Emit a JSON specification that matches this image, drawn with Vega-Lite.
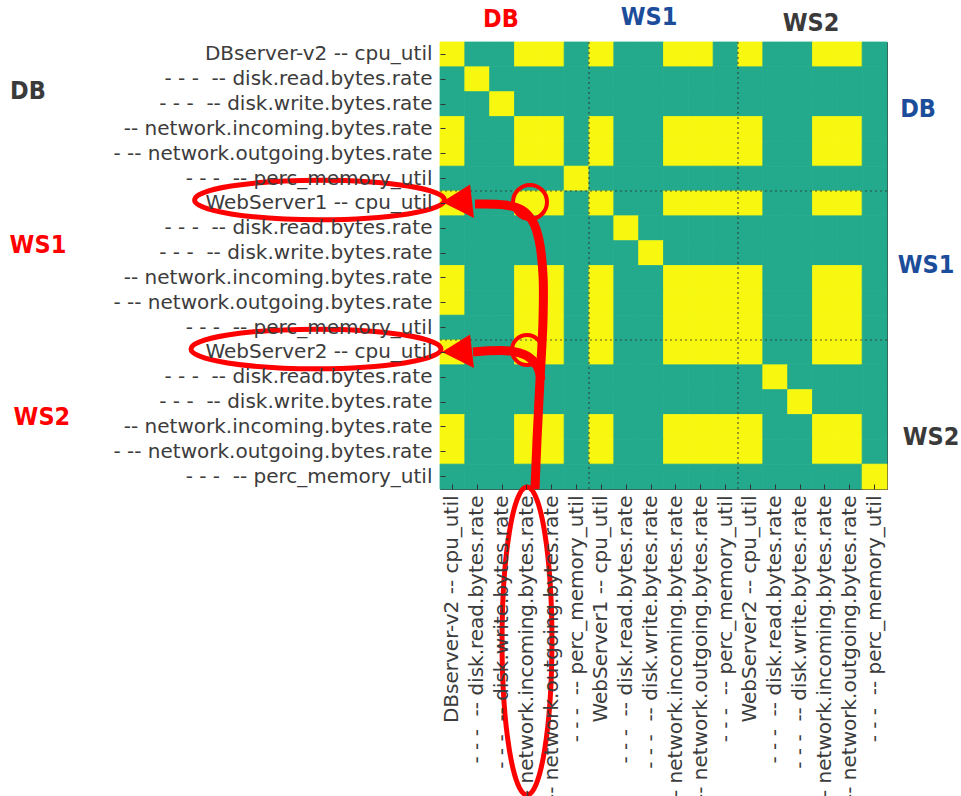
{
"$schema": "https://vega.github.io/schema/vega-lite/v6.json",
"width": 447, "height": 447,
"autosize": {"type": "none"},
"padding": {"left": 440, "top": 42, "right": 74, "bottom": 307},
"background": "white",
"config": {"view": {"stroke": "#404040", "strokeWidth": 1}},
"resolve": {"scale": {"x": "independent", "y": "independent", "color": "independent"}},
"layer": [
{
"data": {"values": [
{"r":0,"c":0,"v":1},{"r":0,"c":1,"v":0},{"r":0,"c":2,"v":0},{"r":0,"c":3,"v":1},{"r":0,"c":4,"v":1},{"r":0,"c":5,"v":0},{"r":0,"c":6,"v":1},{"r":0,"c":7,"v":0},{"r":0,"c":8,"v":0},{"r":0,"c":9,"v":1},{"r":0,"c":10,"v":1},{"r":0,"c":11,"v":0},{"r":0,"c":12,"v":1},{"r":0,"c":13,"v":0},{"r":0,"c":14,"v":0},{"r":0,"c":15,"v":1},{"r":0,"c":16,"v":1},{"r":0,"c":17,"v":0},
{"r":1,"c":0,"v":0},{"r":1,"c":1,"v":1},{"r":1,"c":2,"v":0},{"r":1,"c":3,"v":0},{"r":1,"c":4,"v":0},{"r":1,"c":5,"v":0},{"r":1,"c":6,"v":0},{"r":1,"c":7,"v":0},{"r":1,"c":8,"v":0},{"r":1,"c":9,"v":0},{"r":1,"c":10,"v":0},{"r":1,"c":11,"v":0},{"r":1,"c":12,"v":0},{"r":1,"c":13,"v":0},{"r":1,"c":14,"v":0},{"r":1,"c":15,"v":0},{"r":1,"c":16,"v":0},{"r":1,"c":17,"v":0},
{"r":2,"c":0,"v":0},{"r":2,"c":1,"v":0},{"r":2,"c":2,"v":1},{"r":2,"c":3,"v":0},{"r":2,"c":4,"v":0},{"r":2,"c":5,"v":0},{"r":2,"c":6,"v":0},{"r":2,"c":7,"v":0},{"r":2,"c":8,"v":0},{"r":2,"c":9,"v":0},{"r":2,"c":10,"v":0},{"r":2,"c":11,"v":0},{"r":2,"c":12,"v":0},{"r":2,"c":13,"v":0},{"r":2,"c":14,"v":0},{"r":2,"c":15,"v":0},{"r":2,"c":16,"v":0},{"r":2,"c":17,"v":0},
{"r":3,"c":0,"v":1},{"r":3,"c":1,"v":0},{"r":3,"c":2,"v":0},{"r":3,"c":3,"v":1},{"r":3,"c":4,"v":1},{"r":3,"c":5,"v":0},{"r":3,"c":6,"v":1},{"r":3,"c":7,"v":0},{"r":3,"c":8,"v":0},{"r":3,"c":9,"v":1},{"r":3,"c":10,"v":1},{"r":3,"c":11,"v":1},{"r":3,"c":12,"v":1},{"r":3,"c":13,"v":0},{"r":3,"c":14,"v":0},{"r":3,"c":15,"v":1},{"r":3,"c":16,"v":1},{"r":3,"c":17,"v":0},
{"r":4,"c":0,"v":1},{"r":4,"c":1,"v":0},{"r":4,"c":2,"v":0},{"r":4,"c":3,"v":1},{"r":4,"c":4,"v":1},{"r":4,"c":5,"v":0},{"r":4,"c":6,"v":1},{"r":4,"c":7,"v":0},{"r":4,"c":8,"v":0},{"r":4,"c":9,"v":1},{"r":4,"c":10,"v":1},{"r":4,"c":11,"v":1},{"r":4,"c":12,"v":1},{"r":4,"c":13,"v":0},{"r":4,"c":14,"v":0},{"r":4,"c":15,"v":1},{"r":4,"c":16,"v":1},{"r":4,"c":17,"v":0},
{"r":5,"c":0,"v":0},{"r":5,"c":1,"v":0},{"r":5,"c":2,"v":0},{"r":5,"c":3,"v":0},{"r":5,"c":4,"v":0},{"r":5,"c":5,"v":1},{"r":5,"c":6,"v":0},{"r":5,"c":7,"v":0},{"r":5,"c":8,"v":0},{"r":5,"c":9,"v":0},{"r":5,"c":10,"v":0},{"r":5,"c":11,"v":0},{"r":5,"c":12,"v":0},{"r":5,"c":13,"v":0},{"r":5,"c":14,"v":0},{"r":5,"c":15,"v":0},{"r":5,"c":16,"v":0},{"r":5,"c":17,"v":0},
{"r":6,"c":0,"v":1},{"r":6,"c":1,"v":0},{"r":6,"c":2,"v":0},{"r":6,"c":3,"v":1},{"r":6,"c":4,"v":1},{"r":6,"c":5,"v":0},{"r":6,"c":6,"v":1},{"r":6,"c":7,"v":0},{"r":6,"c":8,"v":0},{"r":6,"c":9,"v":1},{"r":6,"c":10,"v":1},{"r":6,"c":11,"v":1},{"r":6,"c":12,"v":1},{"r":6,"c":13,"v":0},{"r":6,"c":14,"v":0},{"r":6,"c":15,"v":1},{"r":6,"c":16,"v":1},{"r":6,"c":17,"v":0},
{"r":7,"c":0,"v":0},{"r":7,"c":1,"v":0},{"r":7,"c":2,"v":0},{"r":7,"c":3,"v":0},{"r":7,"c":4,"v":0},{"r":7,"c":5,"v":0},{"r":7,"c":6,"v":0},{"r":7,"c":7,"v":1},{"r":7,"c":8,"v":0},{"r":7,"c":9,"v":0},{"r":7,"c":10,"v":0},{"r":7,"c":11,"v":0},{"r":7,"c":12,"v":0},{"r":7,"c":13,"v":0},{"r":7,"c":14,"v":0},{"r":7,"c":15,"v":0},{"r":7,"c":16,"v":0},{"r":7,"c":17,"v":0},
{"r":8,"c":0,"v":0},{"r":8,"c":1,"v":0},{"r":8,"c":2,"v":0},{"r":8,"c":3,"v":0},{"r":8,"c":4,"v":0},{"r":8,"c":5,"v":0},{"r":8,"c":6,"v":0},{"r":8,"c":7,"v":0},{"r":8,"c":8,"v":1},{"r":8,"c":9,"v":0},{"r":8,"c":10,"v":0},{"r":8,"c":11,"v":0},{"r":8,"c":12,"v":0},{"r":8,"c":13,"v":0},{"r":8,"c":14,"v":0},{"r":8,"c":15,"v":0},{"r":8,"c":16,"v":0},{"r":8,"c":17,"v":0},
{"r":9,"c":0,"v":1},{"r":9,"c":1,"v":0},{"r":9,"c":2,"v":0},{"r":9,"c":3,"v":1},{"r":9,"c":4,"v":1},{"r":9,"c":5,"v":0},{"r":9,"c":6,"v":1},{"r":9,"c":7,"v":0},{"r":9,"c":8,"v":0},{"r":9,"c":9,"v":1},{"r":9,"c":10,"v":1},{"r":9,"c":11,"v":1},{"r":9,"c":12,"v":1},{"r":9,"c":13,"v":0},{"r":9,"c":14,"v":0},{"r":9,"c":15,"v":1},{"r":9,"c":16,"v":1},{"r":9,"c":17,"v":0},
{"r":10,"c":0,"v":1},{"r":10,"c":1,"v":0},{"r":10,"c":2,"v":0},{"r":10,"c":3,"v":1},{"r":10,"c":4,"v":1},{"r":10,"c":5,"v":0},{"r":10,"c":6,"v":1},{"r":10,"c":7,"v":0},{"r":10,"c":8,"v":0},{"r":10,"c":9,"v":1},{"r":10,"c":10,"v":1},{"r":10,"c":11,"v":1},{"r":10,"c":12,"v":1},{"r":10,"c":13,"v":0},{"r":10,"c":14,"v":0},{"r":10,"c":15,"v":1},{"r":10,"c":16,"v":1},{"r":10,"c":17,"v":0},
{"r":11,"c":0,"v":0},{"r":11,"c":1,"v":0},{"r":11,"c":2,"v":0},{"r":11,"c":3,"v":1},{"r":11,"c":4,"v":1},{"r":11,"c":5,"v":0},{"r":11,"c":6,"v":1},{"r":11,"c":7,"v":0},{"r":11,"c":8,"v":0},{"r":11,"c":9,"v":1},{"r":11,"c":10,"v":1},{"r":11,"c":11,"v":1},{"r":11,"c":12,"v":1},{"r":11,"c":13,"v":0},{"r":11,"c":14,"v":0},{"r":11,"c":15,"v":1},{"r":11,"c":16,"v":1},{"r":11,"c":17,"v":0},
{"r":12,"c":0,"v":1},{"r":12,"c":1,"v":0},{"r":12,"c":2,"v":0},{"r":12,"c":3,"v":1},{"r":12,"c":4,"v":1},{"r":12,"c":5,"v":0},{"r":12,"c":6,"v":1},{"r":12,"c":7,"v":0},{"r":12,"c":8,"v":0},{"r":12,"c":9,"v":1},{"r":12,"c":10,"v":1},{"r":12,"c":11,"v":1},{"r":12,"c":12,"v":1},{"r":12,"c":13,"v":0},{"r":12,"c":14,"v":0},{"r":12,"c":15,"v":1},{"r":12,"c":16,"v":1},{"r":12,"c":17,"v":0},
{"r":13,"c":0,"v":0},{"r":13,"c":1,"v":0},{"r":13,"c":2,"v":0},{"r":13,"c":3,"v":0},{"r":13,"c":4,"v":0},{"r":13,"c":5,"v":0},{"r":13,"c":6,"v":0},{"r":13,"c":7,"v":0},{"r":13,"c":8,"v":0},{"r":13,"c":9,"v":0},{"r":13,"c":10,"v":0},{"r":13,"c":11,"v":0},{"r":13,"c":12,"v":0},{"r":13,"c":13,"v":1},{"r":13,"c":14,"v":0},{"r":13,"c":15,"v":0},{"r":13,"c":16,"v":0},{"r":13,"c":17,"v":0},
{"r":14,"c":0,"v":0},{"r":14,"c":1,"v":0},{"r":14,"c":2,"v":0},{"r":14,"c":3,"v":0},{"r":14,"c":4,"v":0},{"r":14,"c":5,"v":0},{"r":14,"c":6,"v":0},{"r":14,"c":7,"v":0},{"r":14,"c":8,"v":0},{"r":14,"c":9,"v":0},{"r":14,"c":10,"v":0},{"r":14,"c":11,"v":0},{"r":14,"c":12,"v":0},{"r":14,"c":13,"v":0},{"r":14,"c":14,"v":1},{"r":14,"c":15,"v":0},{"r":14,"c":16,"v":0},{"r":14,"c":17,"v":0},
{"r":15,"c":0,"v":1},{"r":15,"c":1,"v":0},{"r":15,"c":2,"v":0},{"r":15,"c":3,"v":1},{"r":15,"c":4,"v":1},{"r":15,"c":5,"v":0},{"r":15,"c":6,"v":1},{"r":15,"c":7,"v":0},{"r":15,"c":8,"v":0},{"r":15,"c":9,"v":1},{"r":15,"c":10,"v":1},{"r":15,"c":11,"v":1},{"r":15,"c":12,"v":1},{"r":15,"c":13,"v":0},{"r":15,"c":14,"v":0},{"r":15,"c":15,"v":1},{"r":15,"c":16,"v":1},{"r":15,"c":17,"v":0},
{"r":16,"c":0,"v":1},{"r":16,"c":1,"v":0},{"r":16,"c":2,"v":0},{"r":16,"c":3,"v":1},{"r":16,"c":4,"v":1},{"r":16,"c":5,"v":0},{"r":16,"c":6,"v":1},{"r":16,"c":7,"v":0},{"r":16,"c":8,"v":0},{"r":16,"c":9,"v":1},{"r":16,"c":10,"v":1},{"r":16,"c":11,"v":1},{"r":16,"c":12,"v":1},{"r":16,"c":13,"v":0},{"r":16,"c":14,"v":0},{"r":16,"c":15,"v":1},{"r":16,"c":16,"v":1},{"r":16,"c":17,"v":0},
{"r":17,"c":0,"v":0},{"r":17,"c":1,"v":0},{"r":17,"c":2,"v":0},{"r":17,"c":3,"v":0},{"r":17,"c":4,"v":0},{"r":17,"c":5,"v":0},{"r":17,"c":6,"v":0},{"r":17,"c":7,"v":0},{"r":17,"c":8,"v":0},{"r":17,"c":9,"v":0},{"r":17,"c":10,"v":0},{"r":17,"c":11,"v":0},{"r":17,"c":12,"v":0},{"r":17,"c":13,"v":0},{"r":17,"c":14,"v":0},{"r":17,"c":15,"v":0},{"r":17,"c":16,"v":0},{"r":17,"c":17,"v":1}
]},
"mark": {"type": "rect", "strokeWidth": 0.8},
"encoding": {
"x": {"field": "c", "type": "ordinal", "scale": {"paddingInner": 0, "paddingOuter": 0},
"axis": {"orient": "bottom", "title": null, "domain": false, "labelAngle": 270, "labelFont": "DejaVu Sans", "labelFontSize": 20, "labelColor": "#3c3c3c", "labelLimit": 600, "labelPadding": 11, "tickSize": -5, "tickColor": "#333333",
"labelExpr": "['DBserver-v2 -- cpu_util','- - -\u00a0 -- disk.read.bytes.rate','- - -\u00a0 -- disk.write.bytes.rate','- - -\u00a0 -- network.incoming.bytes.rate','- - -\u00a0 -- network.outgoing.bytes.rate','- - -\u00a0 -- perc_memory_util','WebServer1 -- cpu_util','- - -\u00a0 -- disk.read.bytes.rate','- - -\u00a0 -- disk.write.bytes.rate','- - -\u00a0 -- network.incoming.bytes.rate','- - -\u00a0 -- network.outgoing.bytes.rate','- - -\u00a0 -- perc_memory_util','WebServer2 -- cpu_util','- - -\u00a0 -- disk.read.bytes.rate','- - -\u00a0 -- disk.write.bytes.rate','- - -\u00a0 -- network.incoming.bytes.rate','- - -\u00a0 -- network.outgoing.bytes.rate','- - -\u00a0 -- perc_memory_util'][datum.value]"}},
"y": {"field": "r", "type": "ordinal", "scale": {"paddingInner": 0, "paddingOuter": 0},
"axis": {"orient": "left", "title": null, "domain": false, "labelFont": "DejaVu Sans", "labelFontSize": 20, "labelColor": "#3c3c3c", "labelLimit": 600, "labelPadding": 13, "tickSize": -5, "tickColor": "#333333",
"labelExpr": "['DBserver-v2 -- cpu_util','- - -\u00a0 -- disk.read.bytes.rate','- - -\u00a0 -- disk.write.bytes.rate','-- network.incoming.bytes.rate','- -- network.outgoing.bytes.rate','- - -\u00a0 -- perc_memory_util','WebServer1 -- cpu_util','- - -\u00a0 -- disk.read.bytes.rate','- - -\u00a0 -- disk.write.bytes.rate','-- network.incoming.bytes.rate','- -- network.outgoing.bytes.rate','- - -\u00a0 -- perc_memory_util','WebServer2 -- cpu_util','- - -\u00a0 -- disk.read.bytes.rate','- - -\u00a0 -- disk.write.bytes.rate','-- network.incoming.bytes.rate','- -- network.outgoing.bytes.rate','- - -\u00a0 -- perc_memory_util'][datum.value]"}},
"color": {"field": "v", "type": "ordinal", "scale": {"domain": [0, 1], "range": ["#23aa8c", "#f7f70f"]}, "legend": null},
"stroke": {"field": "v", "type": "ordinal", "scale": {"domain": [0, 1], "range": ["#23aa8c", "#f7f70f"]}, "legend": null}
}
},
{
"layer": [
{
"data": {"values": [{"b": 6}, {"b": 12}]},
"mark": {"type": "rule", "color": "#333333", "strokeDash": [2, 3], "strokeWidth": 1.2, "opacity": 0.8},
"encoding": {
"x": {"field": "b", "type": "quantitative", "scale": {"domain": [0, 18], "nice": false, "zero": false},
"axis": {"orient": "top", "title": null, "labels": false, "domain": false, "grid": false, "tickSize": -5, "tickColor": "#333333", "values": [0.5,1.5,2.5,3.5,4.5,5.5,6.5,7.5,8.5,9.5,10.5,11.5,12.5,13.5,14.5,15.5,16.5,17.5]}}
}
},
{
"data": {"values": [{"b": 6}, {"b": 12}]},
"mark": {"type": "rule", "color": "#333333", "strokeDash": [2, 3], "strokeWidth": 1.2, "opacity": 0.8},
"encoding": {
"y": {"field": "b", "type": "quantitative", "scale": {"domain": [0, 18], "reverse": true, "nice": false, "zero": false},
"axis": {"orient": "right", "title": null, "labels": false, "domain": false, "grid": false, "tickSize": -5, "tickColor": "#333333", "values": [0.5,1.5,2.5,3.5,4.5,5.5,6.5,7.5,8.5,9.5,10.5,11.5,12.5,13.5,14.5,15.5,16.5,17.5]}}
}
},
{
"data": {"values": [
{"s":"a","i":0,"x":1.409,"y":6.524},{"s":"a","i":1,"x":2.617,"y":6.564},{"s":"a","i":2,"x":3.302,"y":6.765},{"s":"a","i":3,"x":3.745,"y":7.248},{"s":"a","i":4,"x":3.987,"y":7.973},{"s":"a","i":5,"x":4.148,"y":9.383},{"s":"a","i":6,"x":4.148,"y":11.195},{"s":"a","i":7,"x":4.027,"y":13.611},{"s":"a","i":8,"x":3.906,"y":16.027},{"s":"a","i":9,"x":3.826,"y":18.0},
{"s":"b","i":0,"x":1.329,"y":12.483},{"s":"b","i":1,"x":2.819,"y":12.443},{"s":"b","i":2,"x":3.503,"y":12.644},{"s":"b","i":3,"x":3.906,"y":13.047},{"s":"b","i":4,"x":4.067,"y":13.611}
]},
"mark": {"type": "line", "color": "#ff0000", "strokeWidth": 9, "interpolate": "catmull-rom", "strokeCap": "butt"},
"encoding": {
"x": {"field": "x", "type": "quantitative", "axis": null},
"y": {"field": "y", "type": "quantitative", "axis": null},
"detail": {"field": "s"},
"order": {"field": "i"}
}
},
{
"data": {"values": [{"x": 3.624, "y": 6.443}]},
"mark": {"type": "point", "shape": "circle", "size": 1156, "filled": false, "color": "#ff0000", "strokeWidth": 4, "opacity": 1},
"encoding": {"x": {"field": "x", "type": "quantitative", "axis": null}, "y": {"field": "y", "type": "quantitative", "axis": null}}
},
{
"data": {"values": [{"x": 3.503, "y": 12.403}]},
"mark": {"type": "point", "shape": "circle", "size": 900, "filled": false, "color": "#ff0000", "strokeWidth": 4, "opacity": 1},
"encoding": {"x": {"field": "x", "type": "quantitative", "axis": null}, "y": {"field": "y", "type": "quantitative", "axis": null}}
},
{
"data": {"values": [{"x": 0.725, "y": 6.443}, {"x": 0.725, "y": 12.483}]},
"mark": {"type": "point", "shape": "M-0.94,0L0.71,-1.03L0.94,0.94Z", "size": 1156, "filled": true, "color": "#ff0000", "opacity": 1},
"encoding": {"x": {"field": "x", "type": "quantitative", "axis": null}, "y": {"field": "y", "type": "quantitative", "axis": null}}
},
{
"data": {"values": [{"x": -4.85, "y": 6.362}, {"x": -4.993, "y": 12.362}]},
"mark": {"type": "point", "shape": "M-1,0C-1,-0.0873,-0.5523,-0.158,0,-0.158C0.5523,-0.158,1,-0.0873,1,0C1,0.0873,0.5523,0.158,0,0.158C-0.5523,0.158,-1,0.0873,-1,0Z", "size": 62500, "filled": false, "color": "#ff0000", "strokeWidth": 5, "opacity": 1},
"encoding": {"x": {"field": "x", "type": "quantitative", "axis": null}, "y": {"field": "y", "type": "quantitative", "axis": null}}
},
{
"data": {"values": [{"x": 3.503, "y": 24.12}]},
"mark": {"type": "point", "shape": "M0,-1C0.0895,-1,0.162,-0.5523,0.162,0C0.162,0.5523,0.0895,1,0,1C-0.0895,1,-0.162,0.5523,-0.162,0C-0.162,-0.5523,-0.0895,-1,0,-1Z", "size": 94864, "filled": false, "color": "#ff0000", "strokeWidth": 5, "opacity": 1},
"encoding": {"x": {"field": "x", "type": "quantitative", "axis": null}, "y": {"field": "y", "type": "quantitative", "axis": null}}
},
{
"data": {"values": [{"t": "DB", "x": 2.456, "y": -0.604}, {"t": "WS1", "x": -16.19, "y": 8.497}, {"t": "WS2", "x": -16.03, "y": 15.423}]},
"mark": {"type": "text", "font": "DejaVu Sans Condensed, DejaVu Sans", "fontWeight": "bold", "fontSize": 25, "color": "#ff0000", "align": "center", "baseline": "alphabetic"},
"encoding": {"x": {"field": "x", "type": "quantitative", "axis": null}, "y": {"field": "y", "type": "quantitative", "axis": null}, "text": {"field": "t"}}
},
{
"data": {"values": [{"t": "WS1", "x": 8.416, "y": -0.685}, {"t": "DB", "x": 19.25, "y": 3.02}, {"t": "WS1", "x": 19.57, "y": 9.302}]},
"mark": {"type": "text", "font": "DejaVu Sans Condensed, DejaVu Sans", "fontWeight": "bold", "fontSize": 25, "color": "#1b4d9b", "align": "center", "baseline": "alphabetic"},
"encoding": {"x": {"field": "x", "type": "quantitative", "axis": null}, "y": {"field": "y", "type": "quantitative", "axis": null}, "text": {"field": "t"}}
},
{
"data": {"values": [{"t": "WS2", "x": 14.94, "y": -0.443}, {"t": "WS2", "x": 19.77, "y": 16.228}, {"t": "DB", "x": -16.59, "y": 2.295}]},
"mark": {"type": "text", "font": "DejaVu Sans Condensed, DejaVu Sans", "fontWeight": "bold", "fontSize": 25, "color": "#3a3a3a", "align": "center", "baseline": "alphabetic"},
"encoding": {"x": {"field": "x", "type": "quantitative", "axis": null}, "y": {"field": "y", "type": "quantitative", "axis": null}, "text": {"field": "t"}}
}
]
}
]
}
